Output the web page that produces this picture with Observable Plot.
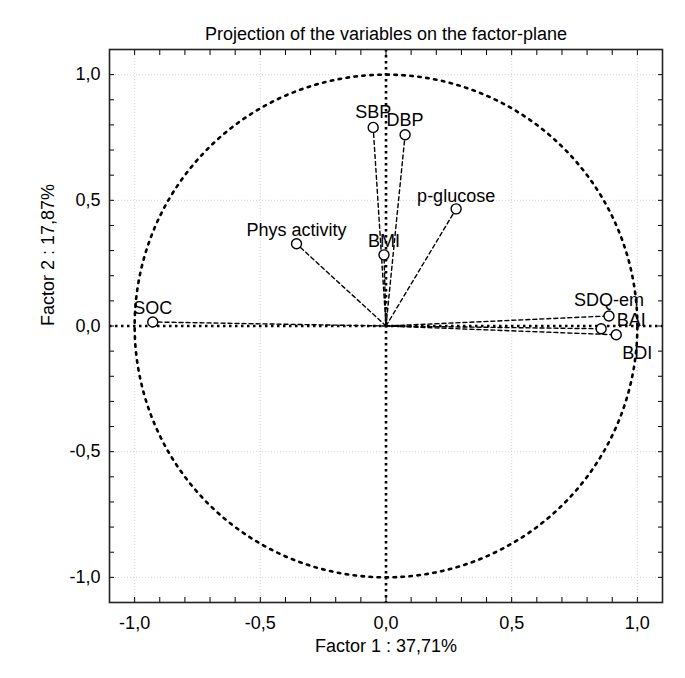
<!DOCTYPE html>
<html>
<head>
<meta charset="utf-8">
<script src="https://cdn.jsdelivr.net/npm/d3@7"></script>
<script src="https://cdn.jsdelivr.net/npm/@observablehq/plot@0.6"></script>
<style>
  html, body { margin: 0; padding: 0; background: #fff; }
  #chart svg { display: block; }
</style>
</head>
<body>
<div id="chart"></div>
<script>
const title = "Projection of the variables on the factor-plane";
const xLabel = "Factor 1 : 37,71%";
const yLabel = "Factor 2 : 17,87%";

const variables = ["SOC", "Phys activity", "BMI", "SBP", "DBP", "p-glucose", "SDQ-em", "BAI", "BDI"];
const factor1 = [-0.928, -0.356, -0.008, -0.051, 0.076, 0.279, 0.887, 0.856, 0.916];
const factor2 = [0.016, 0.327, 0.283, 0.790, 0.761, 0.466, 0.040, -0.011, -0.035];
// label offsets in px (styling only)
const labelDx = [0, 0, 0, 0, 0, 0, 0, 30, 21];
const labelDy = [-14, -14, -14, -15, -14.5, -13, -16, -9, 18];

const majorTicks = [-1, -0.5, 0, 0.5, 1];
const minorTicks = d3.range(-11, 12).map(i => i / 10);

const data = variables.map((v, i) => ({name: v, x: factor1[i], y: factor2[i], dx: labelDx[i], dy: labelDy[i]}));
const vectors = data.flatMap(d => [{id: d.name, x: 0, y: 0}, {id: d.name, x: d.x, y: d.y}]);
const unitCircle = d3.range(0, 361).map(a => ({x: Math.cos(a * Math.PI / 180), y: Math.sin(a * Math.PI / 180)}));

const fmt = d => d.toFixed(1).replace(".", ",");
const font = "Liberation Sans, Arial, sans-serif";
const FS = 18;

const chart = Plot.plot({
  width: 685,
  height: 678,
  marginLeft: 109,
  marginRight: 23,
  marginTop: 49,
  marginBottom: 76,
  style: {fontFamily: font, fontSize: FS + "px", color: "#000", background: "#fff"},
  x: {domain: [-1.1, 1.1]},
  y: {domain: [-1.1, 1.1]},
  marks: [
    Plot.gridX([-1, -0.5, 0.5, 1], {stroke: "#ccc", strokeOpacity: 1, strokeWidth: 0.8, strokeDasharray: "1,2"}),
    Plot.gridY([-1, -0.5, 0.5, 1], {stroke: "#ccc", strokeOpacity: 1, strokeWidth: 0.8, strokeDasharray: "1,2"}),
    Plot.ruleX([0], {stroke: "#000", strokeWidth: 2.6, strokeDasharray: "2.5,3.5"}),
    Plot.ruleY([0], {stroke: "#000", strokeWidth: 2.6, strokeDasharray: "2.5,3.5"}),
    Plot.line(unitCircle, {x: "x", y: "y", stroke: "#000", strokeWidth: 2.6, strokeDasharray: "2.5,5.5", curve: "linear"}),
    Plot.line(vectors, {x: "x", y: "y", z: "id", stroke: "#000", strokeWidth: 1.4, strokeDasharray: "4,3"}),
    Plot.dot(data, {x: "x", y: "y", r: 5, stroke: "#000", strokeWidth: 1.4, fill: "#fff"}),
    ...data.map(d => Plot.text([d], {x: "x", y: "y", text: "name", dx: d.dx, dy: d.dy, fontSize: FS, fill: "#000"})),
    Plot.axisX(minorTicks, {anchor: "bottom", tickSize: -5, tickFormat: () => "", label: null, strokeWidth: 1}),
    Plot.axisX(minorTicks, {anchor: "top", tickSize: -5, tickFormat: () => "", label: null, strokeWidth: 1}),
    Plot.axisY(minorTicks, {anchor: "left", tickSize: -5, tickFormat: () => "", label: null, strokeWidth: 1}),
    Plot.axisY(minorTicks, {anchor: "right", tickSize: -5, tickFormat: () => "", label: null, strokeWidth: 1}),
    Plot.axisX(majorTicks, {anchor: "bottom", tickSize: 0, tickPadding: 14, tickFormat: fmt, fontSize: FS, fill: "#000", label: null}),
    Plot.axisY(majorTicks, {anchor: "left", tickSize: 0, tickPadding: 9, tickFormat: fmt, fontSize: FS, fill: "#000", label: null}),
    Plot.frame({stroke: "#222", strokeWidth: 1.6}),
    Plot.text([title], {frameAnchor: "top", dy: -22.5, fontSize: FS, fill: "#000"}),
    Plot.text([xLabel], {frameAnchor: "bottom", dy: 49.5, fontSize: FS, fill: "#000"}),
    Plot.text([yLabel], {frameAnchor: "left", dx: -61.5, rotate: -90, fontSize: FS, fill: "#000"})
  ]
});
document.getElementById("chart").appendChild(chart);
</script>
</body>
</html>
